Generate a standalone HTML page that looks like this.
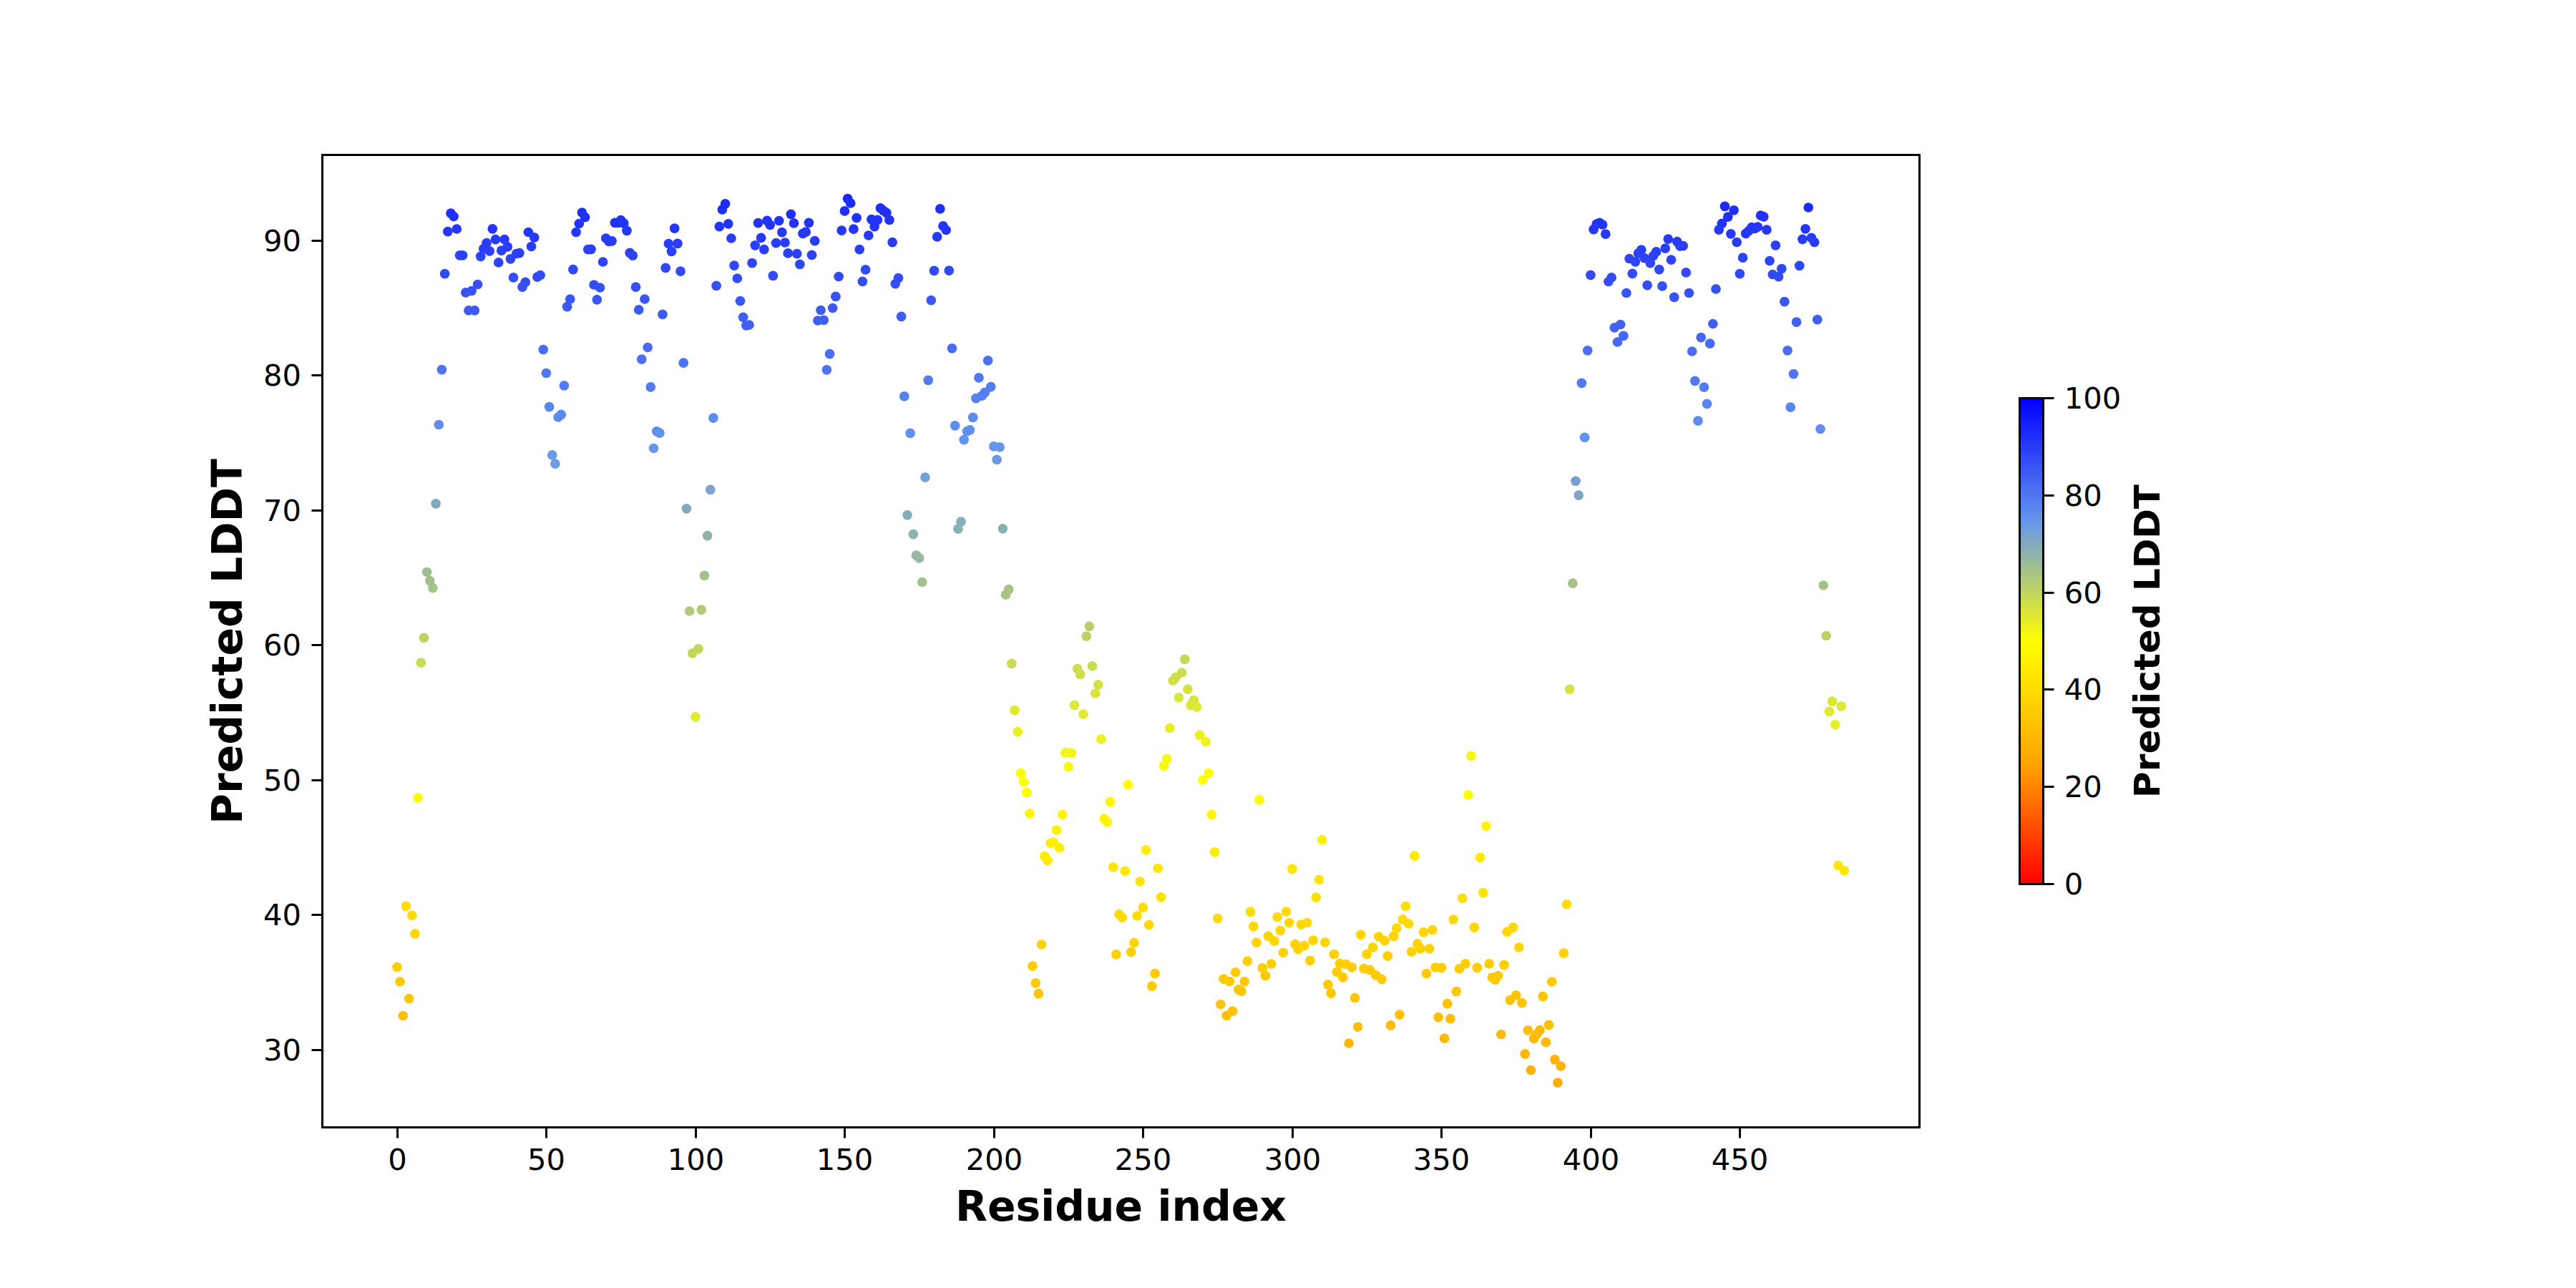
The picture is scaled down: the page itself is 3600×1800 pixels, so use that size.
<!DOCTYPE html>
<html lang="en"><head><meta charset="utf-8"><title>Predicted LDDT per residue</title>
<style>html,body{margin:0;padding:0;background:#fff}body{width:3600px;height:1800px;overflow:hidden}svg{display:block}text{font-family:"DejaVu Sans","Liberation Sans",sans-serif;fill:#000}.t{font-size:41.67px}.b{font-weight:bold}</style></head><body>
<svg width="3600" height="1800" viewBox="0 0 3600 1800">
<defs><linearGradient id="cb" x1="0" y1="1" x2="0" y2="0"><stop offset="0" stop-color="#ff0000"/><stop offset="0.25" stop-color="#ffa500"/><stop offset="0.5" stop-color="#ffff00"/><stop offset="0.75" stop-color="#6495ed"/><stop offset="1" stop-color="#0000ff"/></linearGradient></defs>
<rect width="3600" height="1800" fill="#fff"/>
<g>
<circle cx="554.9" cy="1351.5" r="6.85" fill="#ffcd00"/>
<circle cx="559.1" cy="1372.0" r="6.85" fill="#ffc900"/>
<circle cx="563.2" cy="1419.5" r="6.85" fill="#ffc000"/>
<circle cx="567.4" cy="1266.3" r="6.85" fill="#ffdd00"/>
<circle cx="571.6" cy="1395.6" r="6.85" fill="#ffc500"/>
<circle cx="575.8" cy="1279.3" r="6.85" fill="#ffdb00"/>
<circle cx="579.9" cy="1304.9" r="6.85" fill="#ffd600"/>
<circle cx="584.1" cy="1115.1" r="6.85" fill="#fffa00"/>
<circle cx="588.3" cy="926.2" r="6.85" fill="#c9da53"/>
<circle cx="592.4" cy="891.3" r="6.85" fill="#bed264"/>
<circle cx="596.6" cy="799.5" r="6.85" fill="#9fbe92"/>
<circle cx="600.8" cy="811.6" r="6.85" fill="#a3c08c"/>
<circle cx="604.9" cy="821.6" r="6.85" fill="#a7c387"/>
<circle cx="609.1" cy="703.8" r="6.85" fill="#80a8c2"/>
<circle cx="613.3" cy="593.5" r="6.85" fill="#5f8dee"/>
<circle cx="617.4" cy="516.6" r="6.85" fill="#4e75f1"/>
<circle cx="621.6" cy="382.6" r="6.85" fill="#324af6"/>
<circle cx="625.8" cy="323.6" r="6.85" fill="#2538f8"/>
<circle cx="630.0" cy="298.1" r="6.85" fill="#2030f9"/>
<circle cx="634.1" cy="302.5" r="6.85" fill="#2131f9"/>
<circle cx="638.3" cy="320.0" r="6.85" fill="#2536f8"/>
<circle cx="642.5" cy="356.8" r="6.85" fill="#2c42f7"/>
<circle cx="646.6" cy="356.8" r="6.85" fill="#2c42f7"/>
<circle cx="650.8" cy="408.8" r="6.85" fill="#3752f5"/>
<circle cx="655.0" cy="433.9" r="6.85" fill="#3d5af4"/>
<circle cx="659.1" cy="406.5" r="6.85" fill="#3752f5"/>
<circle cx="663.3" cy="433.9" r="6.85" fill="#3d5af4"/>
<circle cx="667.5" cy="397.5" r="6.85" fill="#354ff5"/>
<circle cx="671.7" cy="358.3" r="6.85" fill="#2d43f7"/>
<circle cx="675.8" cy="347.7" r="6.85" fill="#2a3ff7"/>
<circle cx="680.0" cy="339.6" r="6.85" fill="#293df8"/>
<circle cx="684.2" cy="350.9" r="6.85" fill="#2b40f7"/>
<circle cx="688.3" cy="319.8" r="6.85" fill="#2436f8"/>
<circle cx="692.5" cy="334.7" r="6.85" fill="#283bf8"/>
<circle cx="696.7" cy="366.9" r="6.85" fill="#2e45f7"/>
<circle cx="700.8" cy="350.2" r="6.85" fill="#2b40f7"/>
<circle cx="705.0" cy="334.5" r="6.85" fill="#283bf8"/>
<circle cx="709.2" cy="344.9" r="6.85" fill="#2a3ef7"/>
<circle cx="713.4" cy="361.8" r="6.85" fill="#2d44f7"/>
<circle cx="717.5" cy="387.9" r="6.85" fill="#334cf6"/>
<circle cx="721.7" cy="354.5" r="6.85" fill="#2c41f7"/>
<circle cx="725.9" cy="353.6" r="6.85" fill="#2c41f7"/>
<circle cx="730.0" cy="401.1" r="6.85" fill="#3650f5"/>
<circle cx="734.2" cy="394.3" r="6.85" fill="#344ef6"/>
<circle cx="738.4" cy="324.5" r="6.85" fill="#2538f8"/>
<circle cx="742.5" cy="344.5" r="6.85" fill="#2a3ef7"/>
<circle cx="746.7" cy="331.9" r="6.85" fill="#273af8"/>
<circle cx="750.9" cy="387.1" r="6.85" fill="#334cf6"/>
<circle cx="755.1" cy="384.5" r="6.85" fill="#324bf6"/>
<circle cx="759.2" cy="488.5" r="6.85" fill="#486cf2"/>
<circle cx="763.4" cy="521.5" r="6.85" fill="#4f76f1"/>
<circle cx="767.6" cy="568.6" r="6.85" fill="#5985ef"/>
<circle cx="771.7" cy="635.9" r="6.85" fill="#6a99e5"/>
<circle cx="775.9" cy="648.2" r="6.85" fill="#6e9cde"/>
<circle cx="780.1" cy="583.0" r="6.85" fill="#5c8aee"/>
<circle cx="784.2" cy="579.4" r="6.85" fill="#5c88ef"/>
<circle cx="788.4" cy="538.8" r="6.85" fill="#537cf0"/>
<circle cx="792.6" cy="428.6" r="6.85" fill="#3c59f4"/>
<circle cx="796.8" cy="418.0" r="6.85" fill="#3955f5"/>
<circle cx="800.9" cy="376.6" r="6.85" fill="#3148f6"/>
<circle cx="805.1" cy="324.5" r="6.85" fill="#2538f8"/>
<circle cx="809.3" cy="312.5" r="6.85" fill="#2334f9"/>
<circle cx="813.4" cy="297.0" r="6.85" fill="#202ff9"/>
<circle cx="817.6" cy="303.6" r="6.85" fill="#2131f9"/>
<circle cx="821.8" cy="348.7" r="6.85" fill="#2b3ff7"/>
<circle cx="826.0" cy="348.3" r="6.85" fill="#2b3ff7"/>
<circle cx="830.1" cy="398.0" r="6.85" fill="#354ff5"/>
<circle cx="834.3" cy="418.8" r="6.85" fill="#3956f5"/>
<circle cx="838.5" cy="402.0" r="6.85" fill="#3650f5"/>
<circle cx="842.6" cy="366.0" r="6.85" fill="#2e45f7"/>
<circle cx="846.8" cy="333.0" r="6.85" fill="#273bf8"/>
<circle cx="851.0" cy="337.3" r="6.85" fill="#283cf8"/>
<circle cx="855.1" cy="336.8" r="6.85" fill="#283cf8"/>
<circle cx="859.3" cy="311.3" r="6.85" fill="#2334f9"/>
<circle cx="863.5" cy="311.5" r="6.85" fill="#2334f9"/>
<circle cx="867.6" cy="307.7" r="6.85" fill="#2233f9"/>
<circle cx="871.8" cy="312.1" r="6.85" fill="#2334f9"/>
<circle cx="876.0" cy="322.3" r="6.85" fill="#2537f8"/>
<circle cx="880.2" cy="353.4" r="6.85" fill="#2c41f7"/>
<circle cx="884.3" cy="357.1" r="6.85" fill="#2c42f7"/>
<circle cx="888.5" cy="401.1" r="6.85" fill="#3650f5"/>
<circle cx="892.7" cy="432.9" r="6.85" fill="#3c5af4"/>
<circle cx="896.8" cy="502.1" r="6.85" fill="#4b70f1"/>
<circle cx="901.0" cy="418.0" r="6.85" fill="#3955f5"/>
<circle cx="905.2" cy="485.5" r="6.85" fill="#486bf2"/>
<circle cx="909.3" cy="540.9" r="6.85" fill="#537cf0"/>
<circle cx="913.5" cy="626.5" r="6.85" fill="#6697e9"/>
<circle cx="917.7" cy="602.8" r="6.85" fill="#6190ee"/>
<circle cx="921.9" cy="605.2" r="6.85" fill="#6191ee"/>
<circle cx="926.0" cy="439.3" r="6.85" fill="#3e5cf4"/>
<circle cx="930.2" cy="374.3" r="6.85" fill="#3048f6"/>
<circle cx="934.4" cy="340.5" r="6.85" fill="#293df8"/>
<circle cx="938.5" cy="351.3" r="6.85" fill="#2b40f7"/>
<circle cx="942.7" cy="319.1" r="6.85" fill="#2436f8"/>
<circle cx="946.9" cy="340.4" r="6.85" fill="#293df8"/>
<circle cx="951.0" cy="379.2" r="6.85" fill="#3149f6"/>
<circle cx="955.2" cy="507.2" r="6.85" fill="#4c72f1"/>
<circle cx="959.4" cy="710.8" r="6.85" fill="#82aabf"/>
<circle cx="963.6" cy="854.0" r="6.85" fill="#b1ca77"/>
<circle cx="967.7" cy="912.8" r="6.85" fill="#c5d759"/>
<circle cx="971.9" cy="1001.8" r="6.85" fill="#e2eb2d"/>
<circle cx="976.1" cy="906.8" r="6.85" fill="#c3d65c"/>
<circle cx="980.2" cy="852.1" r="6.85" fill="#b1c978"/>
<circle cx="984.4" cy="804.4" r="6.85" fill="#a1bf90"/>
<circle cx="988.6" cy="748.6" r="6.85" fill="#8fb2ac"/>
<circle cx="992.8" cy="684.4" r="6.85" fill="#79a4cc"/>
<circle cx="996.9" cy="584.1" r="6.85" fill="#5d8aee"/>
<circle cx="1001.1" cy="399.4" r="6.85" fill="#3550f5"/>
<circle cx="1005.3" cy="316.6" r="6.85" fill="#2435f9"/>
<circle cx="1009.4" cy="292.9" r="6.85" fill="#1f2ef9"/>
<circle cx="1013.6" cy="284.8" r="6.85" fill="#1d2bfa"/>
<circle cx="1017.8" cy="312.8" r="6.85" fill="#2334f9"/>
<circle cx="1021.9" cy="333.0" r="6.85" fill="#273bf8"/>
<circle cx="1026.1" cy="371.1" r="6.85" fill="#2f47f6"/>
<circle cx="1030.3" cy="389.0" r="6.85" fill="#334cf6"/>
<circle cx="1034.5" cy="420.7" r="6.85" fill="#3a56f5"/>
<circle cx="1038.6" cy="443.3" r="6.85" fill="#3f5df4"/>
<circle cx="1042.8" cy="454.8" r="6.85" fill="#4161f3"/>
<circle cx="1047.0" cy="454.0" r="6.85" fill="#4161f3"/>
<circle cx="1051.1" cy="367.7" r="6.85" fill="#2f45f7"/>
<circle cx="1055.3" cy="342.8" r="6.85" fill="#293ef8"/>
<circle cx="1059.5" cy="311.7" r="6.85" fill="#2334f9"/>
<circle cx="1063.6" cy="332.3" r="6.85" fill="#273af8"/>
<circle cx="1067.8" cy="348.7" r="6.85" fill="#2b3ff7"/>
<circle cx="1072.0" cy="308.3" r="6.85" fill="#2233f9"/>
<circle cx="1076.2" cy="314.3" r="6.85" fill="#2335f9"/>
<circle cx="1080.3" cy="385.4" r="6.85" fill="#324bf6"/>
<circle cx="1084.5" cy="339.6" r="6.85" fill="#293df8"/>
<circle cx="1088.7" cy="308.5" r="6.85" fill="#2233f9"/>
<circle cx="1092.8" cy="324.7" r="6.85" fill="#2638f8"/>
<circle cx="1097.0" cy="339.0" r="6.85" fill="#293cf8"/>
<circle cx="1101.2" cy="353.9" r="6.85" fill="#2c41f7"/>
<circle cx="1105.3" cy="299.3" r="6.85" fill="#2030f9"/>
<circle cx="1109.5" cy="311.9" r="6.85" fill="#2334f9"/>
<circle cx="1113.7" cy="354.7" r="6.85" fill="#2c41f7"/>
<circle cx="1117.8" cy="369.4" r="6.85" fill="#2f46f7"/>
<circle cx="1122.0" cy="326.4" r="6.85" fill="#2638f8"/>
<circle cx="1126.2" cy="324.1" r="6.85" fill="#2538f8"/>
<circle cx="1130.4" cy="311.3" r="6.85" fill="#2334f9"/>
<circle cx="1134.5" cy="356.4" r="6.85" fill="#2c42f7"/>
<circle cx="1138.7" cy="336.6" r="6.85" fill="#283cf8"/>
<circle cx="1142.9" cy="448.0" r="6.85" fill="#405ff4"/>
<circle cx="1147.0" cy="433.5" r="6.85" fill="#3d5af4"/>
<circle cx="1151.2" cy="447.4" r="6.85" fill="#405ff4"/>
<circle cx="1155.4" cy="516.8" r="6.85" fill="#4e75f1"/>
<circle cx="1159.5" cy="494.7" r="6.85" fill="#4a6ef2"/>
<circle cx="1163.7" cy="430.5" r="6.85" fill="#3c59f4"/>
<circle cx="1167.9" cy="414.4" r="6.85" fill="#3954f5"/>
<circle cx="1172.1" cy="386.5" r="6.85" fill="#334bf6"/>
<circle cx="1176.2" cy="322.1" r="6.85" fill="#2537f8"/>
<circle cx="1180.4" cy="294.9" r="6.85" fill="#1f2ef9"/>
<circle cx="1184.6" cy="277.6" r="6.85" fill="#1c29fa"/>
<circle cx="1188.7" cy="284.0" r="6.85" fill="#1d2bfa"/>
<circle cx="1192.9" cy="320.2" r="6.85" fill="#2536f8"/>
<circle cx="1197.1" cy="304.5" r="6.85" fill="#2132f9"/>
<circle cx="1201.2" cy="348.7" r="6.85" fill="#2b3ff7"/>
<circle cx="1205.4" cy="393.3" r="6.85" fill="#344ef6"/>
<circle cx="1209.6" cy="376.9" r="6.85" fill="#3148f6"/>
<circle cx="1213.8" cy="329.0" r="6.85" fill="#2639f8"/>
<circle cx="1217.9" cy="306.6" r="6.85" fill="#2232f9"/>
<circle cx="1222.1" cy="316.6" r="6.85" fill="#2435f9"/>
<circle cx="1226.3" cy="307.4" r="6.85" fill="#2232f9"/>
<circle cx="1230.4" cy="290.8" r="6.85" fill="#1e2dfa"/>
<circle cx="1234.6" cy="294.4" r="6.85" fill="#1f2ef9"/>
<circle cx="1238.8" cy="297.4" r="6.85" fill="#202ff9"/>
<circle cx="1242.9" cy="307.4" r="6.85" fill="#2232f9"/>
<circle cx="1247.1" cy="338.7" r="6.85" fill="#283cf8"/>
<circle cx="1251.3" cy="396.7" r="6.85" fill="#354ff5"/>
<circle cx="1255.5" cy="388.6" r="6.85" fill="#334cf6"/>
<circle cx="1259.6" cy="442.3" r="6.85" fill="#3e5df4"/>
<circle cx="1263.8" cy="553.9" r="6.85" fill="#5680ef"/>
<circle cx="1268.0" cy="719.8" r="6.85" fill="#85acba"/>
<circle cx="1272.1" cy="605.4" r="6.85" fill="#6191ee"/>
<circle cx="1276.3" cy="746.6" r="6.85" fill="#8eb2ad"/>
<circle cx="1280.5" cy="776.2" r="6.85" fill="#98b89e"/>
<circle cx="1284.7" cy="779.8" r="6.85" fill="#99b99c"/>
<circle cx="1288.8" cy="813.5" r="6.85" fill="#a4c18b"/>
<circle cx="1293.0" cy="667.2" r="6.85" fill="#74a0d5"/>
<circle cx="1297.2" cy="531.3" r="6.85" fill="#5179f0"/>
<circle cx="1301.3" cy="419.7" r="6.85" fill="#3a56f5"/>
<circle cx="1305.5" cy="378.4" r="6.85" fill="#3149f6"/>
<circle cx="1309.7" cy="330.9" r="6.85" fill="#273af8"/>
<circle cx="1313.8" cy="291.9" r="6.85" fill="#1f2ef9"/>
<circle cx="1318.0" cy="315.9" r="6.85" fill="#2435f9"/>
<circle cx="1322.2" cy="321.5" r="6.85" fill="#2537f8"/>
<circle cx="1326.3" cy="378.1" r="6.85" fill="#3149f6"/>
<circle cx="1330.5" cy="486.8" r="6.85" fill="#486bf2"/>
<circle cx="1334.7" cy="594.8" r="6.85" fill="#5f8dee"/>
<circle cx="1338.9" cy="739.2" r="6.85" fill="#8bb0b1"/>
<circle cx="1343.0" cy="729.2" r="6.85" fill="#88aeb6"/>
<circle cx="1347.2" cy="614.6" r="6.85" fill="#6394ed"/>
<circle cx="1351.4" cy="602.8" r="6.85" fill="#6190ee"/>
<circle cx="1355.5" cy="600.9" r="6.85" fill="#608fee"/>
<circle cx="1359.7" cy="583.3" r="6.85" fill="#5c8aee"/>
<circle cx="1363.9" cy="556.6" r="6.85" fill="#5781ef"/>
<circle cx="1368.0" cy="527.9" r="6.85" fill="#5178f0"/>
<circle cx="1372.2" cy="553.2" r="6.85" fill="#5680f0"/>
<circle cx="1376.4" cy="548.3" r="6.85" fill="#557ff0"/>
<circle cx="1380.6" cy="503.8" r="6.85" fill="#4c71f1"/>
<circle cx="1384.7" cy="540.7" r="6.85" fill="#537cf0"/>
<circle cx="1388.9" cy="623.9" r="6.85" fill="#6696eb"/>
<circle cx="1393.1" cy="642.3" r="6.85" fill="#6c9ae1"/>
<circle cx="1397.2" cy="624.8" r="6.85" fill="#6696ea"/>
<circle cx="1401.4" cy="738.8" r="6.85" fill="#8bb0b1"/>
<circle cx="1405.6" cy="831.2" r="6.85" fill="#aac582"/>
<circle cx="1409.8" cy="823.7" r="6.85" fill="#a7c386"/>
<circle cx="1413.9" cy="927.3" r="6.85" fill="#c9da52"/>
<circle cx="1418.1" cy="992.6" r="6.85" fill="#dfe931"/>
<circle cx="1422.3" cy="1022.7" r="6.85" fill="#e9f022"/>
<circle cx="1426.4" cy="1080.6" r="6.85" fill="#fcfd05"/>
<circle cx="1430.6" cy="1092.3" r="6.85" fill="#ffff00"/>
<circle cx="1434.8" cy="1107.4" r="6.85" fill="#fffc00"/>
<circle cx="1438.9" cy="1137.0" r="6.85" fill="#fff600"/>
<circle cx="1443.1" cy="1350.2" r="6.85" fill="#ffcd00"/>
<circle cx="1447.3" cy="1373.9" r="6.85" fill="#ffc900"/>
<circle cx="1451.4" cy="1388.6" r="6.85" fill="#ffc600"/>
<circle cx="1455.6" cy="1320.0" r="6.85" fill="#ffd300"/>
<circle cx="1459.8" cy="1196.7" r="6.85" fill="#ffeb00"/>
<circle cx="1464.0" cy="1202.4" r="6.85" fill="#ffea00"/>
<circle cx="1468.1" cy="1178.4" r="6.85" fill="#ffee00"/>
<circle cx="1472.3" cy="1177.1" r="6.85" fill="#ffee00"/>
<circle cx="1476.5" cy="1160.0" r="6.85" fill="#fff200"/>
<circle cx="1480.6" cy="1184.8" r="6.85" fill="#ffed00"/>
<circle cx="1484.8" cy="1138.5" r="6.85" fill="#fff600"/>
<circle cx="1489.0" cy="1051.9" r="6.85" fill="#f2f613"/>
<circle cx="1493.2" cy="1071.7" r="6.85" fill="#f9fb09"/>
<circle cx="1497.3" cy="1052.3" r="6.85" fill="#f2f613"/>
<circle cx="1501.5" cy="985.6" r="6.85" fill="#dde735"/>
<circle cx="1505.7" cy="934.7" r="6.85" fill="#ccdc4e"/>
<circle cx="1509.8" cy="942.4" r="6.85" fill="#cede4a"/>
<circle cx="1514.0" cy="998.0" r="6.85" fill="#e1ea2e"/>
<circle cx="1518.2" cy="889.1" r="6.85" fill="#bdd265"/>
<circle cx="1522.3" cy="875.3" r="6.85" fill="#b8cf6c"/>
<circle cx="1526.5" cy="930.9" r="6.85" fill="#cbdb50"/>
<circle cx="1530.7" cy="969.0" r="6.85" fill="#d7e43d"/>
<circle cx="1534.8" cy="956.9" r="6.85" fill="#d3e143"/>
<circle cx="1539.0" cy="1032.9" r="6.85" fill="#ecf21d"/>
<circle cx="1543.2" cy="1144.3" r="6.85" fill="#fff500"/>
<circle cx="1547.4" cy="1148.6" r="6.85" fill="#fff400"/>
<circle cx="1551.5" cy="1120.6" r="6.85" fill="#fff900"/>
<circle cx="1555.7" cy="1212.0" r="6.85" fill="#ffe800"/>
<circle cx="1559.9" cy="1333.9" r="6.85" fill="#ffd000"/>
<circle cx="1564.0" cy="1277.8" r="6.85" fill="#ffdb00"/>
<circle cx="1568.2" cy="1282.1" r="6.85" fill="#ffda00"/>
<circle cx="1572.4" cy="1217.3" r="6.85" fill="#ffe700"/>
<circle cx="1576.5" cy="1096.8" r="6.85" fill="#fffe00"/>
<circle cx="1580.7" cy="1330.4" r="6.85" fill="#ffd100"/>
<circle cx="1584.9" cy="1317.5" r="6.85" fill="#ffd400"/>
<circle cx="1589.1" cy="1280.0" r="6.85" fill="#ffdb00"/>
<circle cx="1593.2" cy="1232.0" r="6.85" fill="#ffe400"/>
<circle cx="1597.4" cy="1268.3" r="6.85" fill="#ffdd00"/>
<circle cx="1601.6" cy="1187.9" r="6.85" fill="#ffec00"/>
<circle cx="1605.7" cy="1292.5" r="6.85" fill="#ffd800"/>
<circle cx="1609.9" cy="1378.1" r="6.85" fill="#ffc800"/>
<circle cx="1614.1" cy="1360.7" r="6.85" fill="#ffcb00"/>
<circle cx="1618.2" cy="1213.5" r="6.85" fill="#ffe700"/>
<circle cx="1622.4" cy="1253.8" r="6.85" fill="#ffe000"/>
<circle cx="1626.6" cy="1070.4" r="6.85" fill="#f8fb0a"/>
<circle cx="1630.8" cy="1060.6" r="6.85" fill="#f5f80f"/>
<circle cx="1634.9" cy="1017.5" r="6.85" fill="#e7ef25"/>
<circle cx="1639.1" cy="951.1" r="6.85" fill="#d1e046"/>
<circle cx="1643.3" cy="946.6" r="6.85" fill="#d0df48"/>
<circle cx="1647.4" cy="975.0" r="6.85" fill="#d9e53a"/>
<circle cx="1651.6" cy="940.0" r="6.85" fill="#cedd4c"/>
<circle cx="1655.8" cy="921.3" r="6.85" fill="#c7d955"/>
<circle cx="1659.9" cy="963.2" r="6.85" fill="#d5e240"/>
<circle cx="1664.1" cy="985.6" r="6.85" fill="#dde735"/>
<circle cx="1668.3" cy="978.6" r="6.85" fill="#dae638"/>
<circle cx="1672.5" cy="988.2" r="6.85" fill="#dde833"/>
<circle cx="1676.6" cy="1027.4" r="6.85" fill="#eaf120"/>
<circle cx="1680.8" cy="1090.0" r="6.85" fill="#ffff00"/>
<circle cx="1685.0" cy="1036.3" r="6.85" fill="#edf31b"/>
<circle cx="1689.1" cy="1080.6" r="6.85" fill="#fcfd05"/>
<circle cx="1693.3" cy="1138.3" r="6.85" fill="#fff600"/>
<circle cx="1697.5" cy="1190.9" r="6.85" fill="#ffec00"/>
<circle cx="1701.7" cy="1283.6" r="6.85" fill="#ffda00"/>
<circle cx="1705.8" cy="1403.7" r="6.85" fill="#ffc300"/>
<circle cx="1710.0" cy="1368.2" r="6.85" fill="#ffca00"/>
<circle cx="1714.2" cy="1419.3" r="6.85" fill="#ffc000"/>
<circle cx="1718.3" cy="1371.5" r="6.85" fill="#ffc900"/>
<circle cx="1722.5" cy="1413.1" r="6.85" fill="#ffc100"/>
<circle cx="1726.7" cy="1358.8" r="6.85" fill="#ffcc00"/>
<circle cx="1730.8" cy="1382.8" r="6.85" fill="#ffc700"/>
<circle cx="1735.0" cy="1385.2" r="6.85" fill="#ffc700"/>
<circle cx="1739.2" cy="1371.6" r="6.85" fill="#ffc900"/>
<circle cx="1743.3" cy="1343.2" r="6.85" fill="#ffcf00"/>
<circle cx="1747.5" cy="1274.4" r="6.85" fill="#ffdc00"/>
<circle cx="1751.7" cy="1294.7" r="6.85" fill="#ffd800"/>
<circle cx="1755.9" cy="1317.4" r="6.85" fill="#ffd400"/>
<circle cx="1760.0" cy="1117.9" r="6.85" fill="#fffa00"/>
<circle cx="1764.2" cy="1352.8" r="6.85" fill="#ffcd00"/>
<circle cx="1768.4" cy="1363.7" r="6.85" fill="#ffcb00"/>
<circle cx="1772.5" cy="1308.3" r="6.85" fill="#ffd500"/>
<circle cx="1776.7" cy="1347.1" r="6.85" fill="#ffce00"/>
<circle cx="1780.9" cy="1315.1" r="6.85" fill="#ffd400"/>
<circle cx="1785.1" cy="1281.5" r="6.85" fill="#ffda00"/>
<circle cx="1789.2" cy="1300.4" r="6.85" fill="#ffd700"/>
<circle cx="1793.4" cy="1331.3" r="6.85" fill="#ffd100"/>
<circle cx="1797.6" cy="1274.0" r="6.85" fill="#ffdc00"/>
<circle cx="1801.7" cy="1289.6" r="6.85" fill="#ffd900"/>
<circle cx="1805.9" cy="1214.4" r="6.85" fill="#ffe700"/>
<circle cx="1810.1" cy="1319.6" r="6.85" fill="#ffd300"/>
<circle cx="1814.2" cy="1326.6" r="6.85" fill="#ffd200"/>
<circle cx="1818.4" cy="1292.1" r="6.85" fill="#ffd800"/>
<circle cx="1822.6" cy="1321.7" r="6.85" fill="#ffd300"/>
<circle cx="1826.8" cy="1289.5" r="6.85" fill="#ffd900"/>
<circle cx="1830.9" cy="1342.4" r="6.85" fill="#ffcf00"/>
<circle cx="1835.1" cy="1314.1" r="6.85" fill="#ffd400"/>
<circle cx="1839.3" cy="1254.2" r="6.85" fill="#ffe000"/>
<circle cx="1843.4" cy="1229.5" r="6.85" fill="#ffe400"/>
<circle cx="1847.6" cy="1173.9" r="6.85" fill="#ffef00"/>
<circle cx="1851.8" cy="1317.0" r="6.85" fill="#ffd400"/>
<circle cx="1855.9" cy="1375.8" r="6.85" fill="#ffc800"/>
<circle cx="1860.1" cy="1388.2" r="6.85" fill="#ffc600"/>
<circle cx="1864.3" cy="1333.6" r="6.85" fill="#ffd100"/>
<circle cx="1868.4" cy="1358.3" r="6.85" fill="#ffcc00"/>
<circle cx="1872.6" cy="1346.6" r="6.85" fill="#ffce00"/>
<circle cx="1876.8" cy="1365.8" r="6.85" fill="#ffca00"/>
<circle cx="1881.0" cy="1347.7" r="6.85" fill="#ffce00"/>
<circle cx="1885.1" cy="1458.0" r="6.85" fill="#ffb900"/>
<circle cx="1889.3" cy="1351.8" r="6.85" fill="#ffcd00"/>
<circle cx="1893.5" cy="1394.5" r="6.85" fill="#ffc500"/>
<circle cx="1897.6" cy="1435.0" r="6.85" fill="#ffbd00"/>
<circle cx="1901.8" cy="1306.4" r="6.85" fill="#ffd600"/>
<circle cx="1906.0" cy="1353.7" r="6.85" fill="#ffcd00"/>
<circle cx="1910.2" cy="1333.6" r="6.85" fill="#ffd100"/>
<circle cx="1914.3" cy="1355.4" r="6.85" fill="#ffcc00"/>
<circle cx="1918.5" cy="1324.0" r="6.85" fill="#ffd200"/>
<circle cx="1922.7" cy="1362.8" r="6.85" fill="#ffcb00"/>
<circle cx="1926.8" cy="1309.2" r="6.85" fill="#ffd500"/>
<circle cx="1931.0" cy="1368.6" r="6.85" fill="#ffca00"/>
<circle cx="1935.2" cy="1314.7" r="6.85" fill="#ffd400"/>
<circle cx="1939.3" cy="1336.2" r="6.85" fill="#ffd000"/>
<circle cx="1943.5" cy="1432.9" r="6.85" fill="#ffbe00"/>
<circle cx="1947.7" cy="1308.3" r="6.85" fill="#ffd500"/>
<circle cx="1951.8" cy="1297.2" r="6.85" fill="#ffd800"/>
<circle cx="1956.0" cy="1418.2" r="6.85" fill="#ffc000"/>
<circle cx="1960.2" cy="1285.1" r="6.85" fill="#ffda00"/>
<circle cx="1964.4" cy="1266.5" r="6.85" fill="#ffdd00"/>
<circle cx="1968.5" cy="1291.0" r="6.85" fill="#ffd900"/>
<circle cx="1972.7" cy="1330.0" r="6.85" fill="#ffd100"/>
<circle cx="1976.9" cy="1196.1" r="6.85" fill="#ffeb00"/>
<circle cx="1981.0" cy="1318.9" r="6.85" fill="#ffd300"/>
<circle cx="1985.2" cy="1325.8" r="6.85" fill="#ffd200"/>
<circle cx="1989.4" cy="1302.8" r="6.85" fill="#ffd600"/>
<circle cx="1993.5" cy="1360.5" r="6.85" fill="#ffcb00"/>
<circle cx="1997.7" cy="1325.8" r="6.85" fill="#ffd200"/>
<circle cx="2001.9" cy="1299.6" r="6.85" fill="#ffd700"/>
<circle cx="2006.1" cy="1352.0" r="6.85" fill="#ffcd00"/>
<circle cx="2010.2" cy="1421.6" r="6.85" fill="#ffc000"/>
<circle cx="2014.4" cy="1352.4" r="6.85" fill="#ffcd00"/>
<circle cx="2018.6" cy="1451.2" r="6.85" fill="#ffba00"/>
<circle cx="2022.7" cy="1402.6" r="6.85" fill="#ffc300"/>
<circle cx="2026.9" cy="1423.7" r="6.85" fill="#ffbf00"/>
<circle cx="2031.1" cy="1285.1" r="6.85" fill="#ffda00"/>
<circle cx="2035.2" cy="1385.6" r="6.85" fill="#ffc700"/>
<circle cx="2039.4" cy="1353.9" r="6.85" fill="#ffcd00"/>
<circle cx="2043.6" cy="1255.3" r="6.85" fill="#ffe000"/>
<circle cx="2047.8" cy="1346.8" r="6.85" fill="#ffce00"/>
<circle cx="2051.9" cy="1111.1" r="6.85" fill="#fffb00"/>
<circle cx="2056.1" cy="1056.3" r="6.85" fill="#f4f711"/>
<circle cx="2060.3" cy="1296.2" r="6.85" fill="#ffd800"/>
<circle cx="2064.4" cy="1352.4" r="6.85" fill="#ffcd00"/>
<circle cx="2068.6" cy="1198.4" r="6.85" fill="#ffea00"/>
<circle cx="2072.8" cy="1247.6" r="6.85" fill="#ffe100"/>
<circle cx="2076.9" cy="1154.5" r="6.85" fill="#fff300"/>
<circle cx="2081.1" cy="1346.9" r="6.85" fill="#ffce00"/>
<circle cx="2085.3" cy="1366.0" r="6.85" fill="#ffca00"/>
<circle cx="2089.5" cy="1369.4" r="6.85" fill="#ffca00"/>
<circle cx="2093.6" cy="1363.5" r="6.85" fill="#ffcb00"/>
<circle cx="2097.8" cy="1445.5" r="6.85" fill="#ffbb00"/>
<circle cx="2102.0" cy="1348.6" r="6.85" fill="#ffce00"/>
<circle cx="2106.1" cy="1302.3" r="6.85" fill="#ffd700"/>
<circle cx="2110.3" cy="1397.7" r="6.85" fill="#ffc400"/>
<circle cx="2114.5" cy="1296.1" r="6.85" fill="#ffd800"/>
<circle cx="2118.7" cy="1390.9" r="6.85" fill="#ffc600"/>
<circle cx="2122.8" cy="1324.0" r="6.85" fill="#ffd200"/>
<circle cx="2127.0" cy="1401.6" r="6.85" fill="#ffc400"/>
<circle cx="2131.2" cy="1472.9" r="6.85" fill="#ffb600"/>
<circle cx="2135.3" cy="1439.9" r="6.85" fill="#ffbc00"/>
<circle cx="2139.5" cy="1495.5" r="6.85" fill="#ffb200"/>
<circle cx="2143.7" cy="1451.4" r="6.85" fill="#ffba00"/>
<circle cx="2147.8" cy="1445.2" r="6.85" fill="#ffbb00"/>
<circle cx="2152.0" cy="1439.5" r="6.85" fill="#ffbc00"/>
<circle cx="2156.2" cy="1392.6" r="6.85" fill="#ffc500"/>
<circle cx="2160.3" cy="1456.5" r="6.85" fill="#ffb900"/>
<circle cx="2164.5" cy="1432.3" r="6.85" fill="#ffbe00"/>
<circle cx="2168.7" cy="1372.0" r="6.85" fill="#ffc900"/>
<circle cx="2172.9" cy="1480.8" r="6.85" fill="#ffb400"/>
<circle cx="2177.0" cy="1513.0" r="6.85" fill="#ffae00"/>
<circle cx="2181.2" cy="1490.0" r="6.85" fill="#ffb300"/>
<circle cx="2185.4" cy="1332.2" r="6.85" fill="#ffd100"/>
<circle cx="2189.5" cy="1263.8" r="6.85" fill="#ffde00"/>
<circle cx="2193.7" cy="963.4" r="6.85" fill="#d5e240"/>
<circle cx="2197.9" cy="815.2" r="6.85" fill="#a4c18a"/>
<circle cx="2202.0" cy="672.3" r="6.85" fill="#75a1d2"/>
<circle cx="2206.2" cy="692.1" r="6.85" fill="#7ca5c8"/>
<circle cx="2210.4" cy="535.3" r="6.85" fill="#527af0"/>
<circle cx="2214.6" cy="611.4" r="6.85" fill="#6293ed"/>
<circle cx="2218.7" cy="489.8" r="6.85" fill="#496cf2"/>
<circle cx="2222.9" cy="384.3" r="6.85" fill="#324bf6"/>
<circle cx="2227.1" cy="320.6" r="6.85" fill="#2537f8"/>
<circle cx="2231.2" cy="313.2" r="6.85" fill="#2334f9"/>
<circle cx="2235.4" cy="311.3" r="6.85" fill="#2334f9"/>
<circle cx="2239.6" cy="314.0" r="6.85" fill="#2335f9"/>
<circle cx="2243.8" cy="327.2" r="6.85" fill="#2639f8"/>
<circle cx="2247.9" cy="393.5" r="6.85" fill="#344ef6"/>
<circle cx="2252.1" cy="387.9" r="6.85" fill="#334cf6"/>
<circle cx="2256.3" cy="457.8" r="6.85" fill="#4262f3"/>
<circle cx="2260.4" cy="478.0" r="6.85" fill="#4668f2"/>
<circle cx="2264.6" cy="453.5" r="6.85" fill="#4161f3"/>
<circle cx="2268.8" cy="469.3" r="6.85" fill="#4466f3"/>
<circle cx="2272.9" cy="409.5" r="6.85" fill="#3853f5"/>
<circle cx="2277.1" cy="361.5" r="6.85" fill="#2d44f7"/>
<circle cx="2281.3" cy="382.4" r="6.85" fill="#324af6"/>
<circle cx="2285.4" cy="365.8" r="6.85" fill="#2e45f7"/>
<circle cx="2289.6" cy="353.9" r="6.85" fill="#2c41f7"/>
<circle cx="2293.8" cy="349.0" r="6.85" fill="#2b40f7"/>
<circle cx="2298.0" cy="360.7" r="6.85" fill="#2d43f7"/>
<circle cx="2302.1" cy="398.6" r="6.85" fill="#354ff5"/>
<circle cx="2306.3" cy="367.7" r="6.85" fill="#2f45f7"/>
<circle cx="2310.5" cy="357.5" r="6.85" fill="#2c42f7"/>
<circle cx="2314.6" cy="351.9" r="6.85" fill="#2b40f7"/>
<circle cx="2318.8" cy="376.6" r="6.85" fill="#3148f6"/>
<circle cx="2323.0" cy="399.9" r="6.85" fill="#3550f5"/>
<circle cx="2327.2" cy="347.1" r="6.85" fill="#2a3ff7"/>
<circle cx="2331.3" cy="334.1" r="6.85" fill="#283bf8"/>
<circle cx="2335.5" cy="363.2" r="6.85" fill="#2e44f7"/>
<circle cx="2339.7" cy="415.4" r="6.85" fill="#3955f5"/>
<circle cx="2343.8" cy="337.7" r="6.85" fill="#283cf8"/>
<circle cx="2348.0" cy="343.9" r="6.85" fill="#2a3ef8"/>
<circle cx="2352.2" cy="343.6" r="6.85" fill="#2a3ef8"/>
<circle cx="2356.3" cy="380.9" r="6.85" fill="#314af6"/>
<circle cx="2360.5" cy="409.5" r="6.85" fill="#3853f5"/>
<circle cx="2364.7" cy="491.0" r="6.85" fill="#496cf2"/>
<circle cx="2368.8" cy="532.3" r="6.85" fill="#527af0"/>
<circle cx="2373.0" cy="588.2" r="6.85" fill="#5d8bee"/>
<circle cx="2377.2" cy="471.7" r="6.85" fill="#4566f3"/>
<circle cx="2381.4" cy="541.1" r="6.85" fill="#537cf0"/>
<circle cx="2385.5" cy="564.3" r="6.85" fill="#5884ef"/>
<circle cx="2389.7" cy="480.2" r="6.85" fill="#4769f2"/>
<circle cx="2393.9" cy="452.5" r="6.85" fill="#4160f3"/>
<circle cx="2398.0" cy="403.9" r="6.85" fill="#3651f5"/>
<circle cx="2402.2" cy="321.1" r="6.85" fill="#2537f8"/>
<circle cx="2406.4" cy="312.3" r="6.85" fill="#2334f9"/>
<circle cx="2410.5" cy="288.3" r="6.85" fill="#1e2cfa"/>
<circle cx="2414.7" cy="303.2" r="6.85" fill="#2131f9"/>
<circle cx="2418.9" cy="326.8" r="6.85" fill="#2639f8"/>
<circle cx="2423.1" cy="293.8" r="6.85" fill="#1f2ef9"/>
<circle cx="2427.2" cy="338.5" r="6.85" fill="#283cf8"/>
<circle cx="2431.4" cy="382.6" r="6.85" fill="#324af6"/>
<circle cx="2435.6" cy="360.2" r="6.85" fill="#2d43f7"/>
<circle cx="2439.7" cy="326.4" r="6.85" fill="#2638f8"/>
<circle cx="2443.9" cy="322.6" r="6.85" fill="#2537f8"/>
<circle cx="2448.1" cy="317.5" r="6.85" fill="#2436f9"/>
<circle cx="2452.2" cy="319.4" r="6.85" fill="#2436f8"/>
<circle cx="2456.4" cy="317.2" r="6.85" fill="#2436f9"/>
<circle cx="2460.6" cy="301.2" r="6.85" fill="#2130f9"/>
<circle cx="2464.8" cy="302.8" r="6.85" fill="#2131f9"/>
<circle cx="2468.9" cy="321.1" r="6.85" fill="#2537f8"/>
<circle cx="2473.1" cy="364.5" r="6.85" fill="#2e44f7"/>
<circle cx="2477.3" cy="383.5" r="6.85" fill="#324af6"/>
<circle cx="2481.4" cy="342.8" r="6.85" fill="#293ef8"/>
<circle cx="2485.6" cy="386.7" r="6.85" fill="#334cf6"/>
<circle cx="2489.8" cy="375.6" r="6.85" fill="#3048f6"/>
<circle cx="2493.9" cy="421.6" r="6.85" fill="#3a57f5"/>
<circle cx="2498.1" cy="489.8" r="6.85" fill="#496cf2"/>
<circle cx="2502.3" cy="569.2" r="6.85" fill="#5985ef"/>
<circle cx="2506.5" cy="522.6" r="6.85" fill="#5076f1"/>
<circle cx="2510.6" cy="450.1" r="6.85" fill="#4060f3"/>
<circle cx="2514.8" cy="371.3" r="6.85" fill="#2f47f6"/>
<circle cx="2519.0" cy="334.3" r="6.85" fill="#283bf8"/>
<circle cx="2523.1" cy="319.8" r="6.85" fill="#2436f8"/>
<circle cx="2527.3" cy="290.0" r="6.85" fill="#1e2dfa"/>
<circle cx="2531.5" cy="332.3" r="6.85" fill="#273af8"/>
<circle cx="2535.7" cy="338.5" r="6.85" fill="#283cf8"/>
<circle cx="2539.8" cy="446.7" r="6.85" fill="#3f5ef4"/>
<circle cx="2544.0" cy="599.5" r="6.85" fill="#608fee"/>
<circle cx="2548.2" cy="818.0" r="6.85" fill="#a5c289"/>
<circle cx="2552.3" cy="888.5" r="6.85" fill="#bdd266"/>
<circle cx="2556.5" cy="994.3" r="6.85" fill="#dfe930"/>
<circle cx="2560.7" cy="980.3" r="6.85" fill="#dbe637"/>
<circle cx="2564.8" cy="1012.7" r="6.85" fill="#e5ee27"/>
<circle cx="2569.0" cy="1209.5" r="6.85" fill="#ffe800"/>
<circle cx="2573.2" cy="987.1" r="6.85" fill="#dde834"/>
<circle cx="2577.3" cy="1216.7" r="6.85" fill="#ffe700"/>
</g>
<rect x="450.5" y="216.5" width="2232.0" height="1359.0" fill="none" stroke="#000" stroke-width="3" stroke-linejoin="miter"/>
<g stroke="#000" stroke-width="3">
<line x1="555.5" y1="1575.5" x2="555.5" y2="1590.5"/>
<line x1="763.5" y1="1575.5" x2="763.5" y2="1590.5"/>
<line x1="972.5" y1="1575.5" x2="972.5" y2="1590.5"/>
<line x1="1180.5" y1="1575.5" x2="1180.5" y2="1590.5"/>
<line x1="1389.5" y1="1575.5" x2="1389.5" y2="1590.5"/>
<line x1="1597.5" y1="1575.5" x2="1597.5" y2="1590.5"/>
<line x1="1806.5" y1="1575.5" x2="1806.5" y2="1590.5"/>
<line x1="2014.5" y1="1575.5" x2="2014.5" y2="1590.5"/>
<line x1="2223.5" y1="1575.5" x2="2223.5" y2="1590.5"/>
<line x1="2431.5" y1="1575.5" x2="2431.5" y2="1590.5"/>
<line x1="450.5" y1="1467.5" x2="435.5" y2="1467.5"/>
<line x1="450.5" y1="1278.5" x2="435.5" y2="1278.5"/>
<line x1="450.5" y1="1090.5" x2="435.5" y2="1090.5"/>
<line x1="450.5" y1="901.5" x2="435.5" y2="901.5"/>
<line x1="450.5" y1="713.5" x2="435.5" y2="713.5"/>
<line x1="450.5" y1="524.5" x2="435.5" y2="524.5"/>
<line x1="450.5" y1="336.5" x2="435.5" y2="336.5"/>
</g>
<g class="t" text-anchor="middle">
<text x="555.5" y="1635.2">0</text>
<text x="763.5" y="1635.2">50</text>
<text x="972.5" y="1635.2">100</text>
<text x="1180.5" y="1635.2">150</text>
<text x="1389.5" y="1635.2">200</text>
<text x="1597.5" y="1635.2">250</text>
<text x="1806.5" y="1635.2">300</text>
<text x="2014.5" y="1635.2">350</text>
<text x="2223.5" y="1635.2">400</text>
<text x="2431.5" y="1635.2">450</text>
</g>
<g class="t" text-anchor="end">
<text x="421.0" y="1482.0">30</text>
<text x="421.0" y="1293.0">40</text>
<text x="421.0" y="1105.0">50</text>
<text x="421.0" y="916.0">60</text>
<text x="421.0" y="728.0">70</text>
<text x="421.0" y="539.0">80</text>
<text x="421.0" y="351.0">90</text>
</g>
<text class="b" font-size="58.33" text-anchor="middle" x="1566.5" y="1705.8">Residue index</text>
<text class="b" font-size="58.33" text-anchor="middle" transform="translate(337.6 896.5) rotate(-90)">Predicted LDDT</text>
<rect x="2822.5" y="556.5" width="33.0" height="679.0" fill="url(#cb)" stroke="#000" stroke-width="3"/>
<g stroke="#000" stroke-width="3">
<line x1="2855.5" y1="1235.5" x2="2870.5" y2="1235.5"/>
<line x1="2855.5" y1="1099.5" x2="2870.5" y2="1099.5"/>
<line x1="2855.5" y1="963.5" x2="2870.5" y2="963.5"/>
<line x1="2855.5" y1="828.5" x2="2870.5" y2="828.5"/>
<line x1="2855.5" y1="692.5" x2="2870.5" y2="692.5"/>
<line x1="2855.5" y1="556.5" x2="2870.5" y2="556.5"/>
</g>
<g class="t" text-anchor="start">
<text x="2884.7" y="1250.0">0</text>
<text x="2884.7" y="1114.0">20</text>
<text x="2884.7" y="978.0">40</text>
<text x="2884.7" y="843.0">60</text>
<text x="2884.7" y="707.0">80</text>
<text x="2884.7" y="571.0">100</text>
</g>
<text class="b" font-size="50" text-anchor="middle" transform="translate(3018 896.0) rotate(-90)">Predicted LDDT</text>
</svg></body></html>
